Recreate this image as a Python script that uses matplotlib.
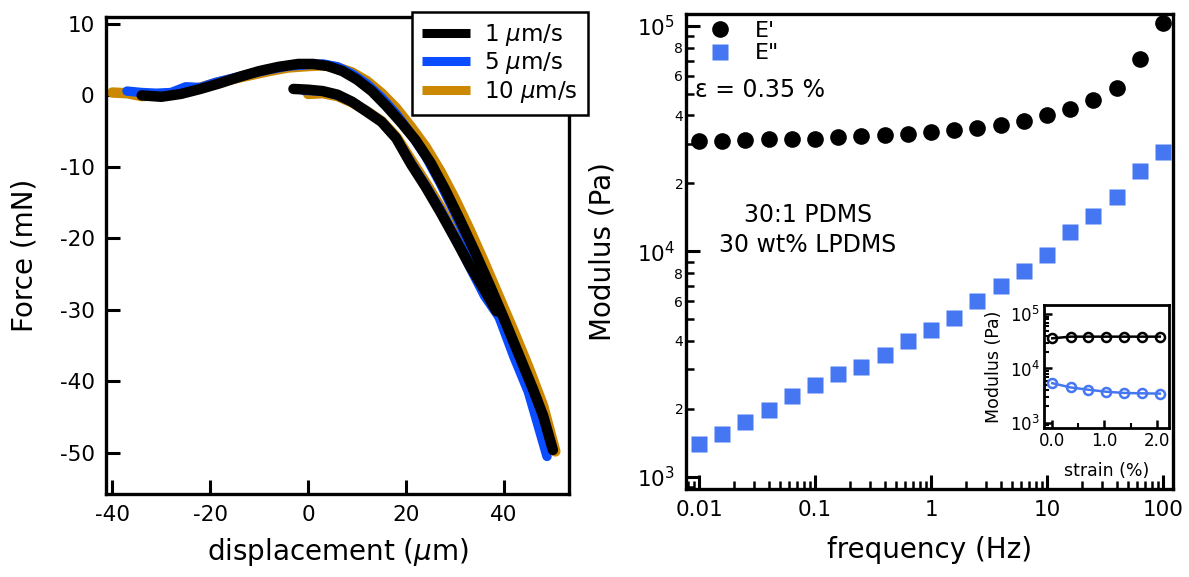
import numpy as np
import matplotlib
matplotlib.use("Agg")
import matplotlib.pyplot as plt
from matplotlib.ticker import LogLocator, FuncFormatter, NullFormatter, FixedLocator, LogFormatterSciNotation

plt.rcParams['font.family'] = ['DejaVu Sans']
plt.rcParams['axes.unicode_minus'] = False
plt.rcParams['mathtext.fontset'] = 'dejavusans'

# ---- left panel: force vs displacement (approach and second branch per speed) ----
speeds = ["1 $\\mu$m/s", "5 $\\mu$m/s", "10 $\\mu$m/s"]
colors = ["black", "#0a4cff", "#cc8800"]

x1_a = [-34, -30, -26, -22, -18, -14, -10, -6, -2, 1, 4, 7, 10, 13, 16, 19, 22, 25, 28, 31, 34, 37, 40, 43, 46, 48, 50]
y1_a = [0.0, -0.2, 0.2, 0.9, 1.7, 2.6, 3.4, 4.0, 4.4, 4.4, 4.1, 3.4, 2.2, 0.6, -1.5, -3.8, -6.3, -9.4, -13.2, -17.4, -21.8, -26.4, -31.2, -36.2, -41.2, -44.8, -49.6]
x1_b = [-3, 0, 3, 6, 9, 12, 15, 18, 21, 24, 27, 30, 33, 36, 38.5]
y1_b = [0.9, 0.8, 0.6, 0.1, -0.9, -2.3, -3.7, -6.0, -9.6, -12.8, -16.3, -20.0, -23.8, -27.2, -30.2]

x5_a = [-37, -34, -31, -28, -25, -22, -19, -16, -12, -8, -4, 0, 3, 6, 9, 12, 15, 18, 21, 24, 27, 30, 33, 36, 39, 42, 45, 48.8]
y5_a = [0.6, 0.4, 0.3, 0.4, 1.2, 1.1, 1.8, 2.3, 3.0, 3.6, 4.1, 4.3, 4.4, 4.0, 3.0, 1.6, -0.3, -2.6, -5.4, -8.5, -12.3, -16.5, -21.0, -25.8, -31.0, -36.5, -41.5, -50.5]
x5_b = [-1, 3, 6, 9, 12, 15, 18, 21, 24, 27, 30, 33, 36, 39]
y5_b = [0.7, 0.6, 0.0, -0.9, -2.2, -3.7, -6.0, -9.4, -12.6, -16.0, -19.8, -24.0, -28.0, -31.0]

x10_a = [-40, -37, -34, -31, -28, -25, -22, -19, -16, -12, -8, -4, 0, 3, 6, 9, 12, 15, 18, 21, 24, 27, 30, 33, 36, 39, 42, 45, 48, 50.5]
y10_a = [0.4, 0.3, -0.1, 0.0, 0.2, 0.6, 1.1, 1.7, 2.2, 2.8, 3.4, 3.9, 4.1, 4.2, 3.9, 3.2, 2.0, 0.3, -1.8, -4.4, -7.2, -10.6, -14.5, -18.8, -23.4, -28.2, -33.0, -38.0, -43.4, -49.8]
x10_b = [0, 3, 6, 9, 12, 15, 18, 21, 24, 27, 30, 33, 36, 39]
y10_b = [0.2, 0.3, -0.1, -1.0, -2.2, -3.6, -5.8, -9.0, -12.2, -15.6, -19.4, -23.4, -27.3, -30.4]

# ---- right panel: frequency sweep ----
freq = [0.01, 0.0158, 0.0251, 0.0398, 0.0631, 0.1, 0.158, 0.251, 0.398, 0.631, 1.0,
        1.58, 2.51, 3.98, 6.31, 10.0, 15.8, 25.1, 39.8, 63.1, 100.0]
E_store = [30900, 30900, 31150, 31360, 31470, 31470, 32000, 32330, 32780, 33120, 33910,
           34490, 35320, 36290, 37680, 40190, 42720, 46990, 52780, 71170, 102400]
E_loss = [1393, 1553, 1754, 1972, 2275, 2553, 2857, 3080, 3452, 3981, 4487,
          5058, 5998, 6985, 8150, 9630, 12140, 14290, 17340, 22750, 27470]

# ---- inset: strain sweep ----
strain = [0.0, 0.35, 0.69, 1.03, 1.37, 1.71, 2.06]
in_store = [36000, 38600, 38600, 38600, 38600, 38600, 38600]
in_loss = [5360, 4470, 4060, 3730, 3540, 3480, 3440]

fig = plt.figure(figsize=(11.89, 5.77), dpi=100)

lw_spine = 2.4
ax1 = fig.add_axes([0.0889, 0.1433, 0.3897, 0.8277])
series = [(x1_a, y1_a, x1_b, y1_b), (x5_a, y5_a, x5_b, y5_b), (x10_a, y10_a, x10_b, y10_b)]
widths = [7.5, 6.8, 7.5]
handles = []
for i in [2, 1, 0]:
    xa, ya, xb, yb = series[i]
    h, = ax1.plot(xa, ya, color=colors[i], lw=widths[i], solid_capstyle='round', zorder=3 - i * 0.5)
    ax1.plot(xb, yb, color=colors[i], lw=widths[i], solid_capstyle='round', zorder=3 - i * 0.5)
    handles.append((i, h))
handles = [h for i, h in sorted(handles)]

ax1.set_xlim(-41.35, 53.3)
ax1.set_ylim(-55.8, 11.0)
ax1.set_xticks([-40, -20, 0, 20, 40])
ax1.set_yticks([10, 0, -10, -20, -30, -40, -50])
ax1.set_xlabel("displacement ($\\mu$m)", fontsize=20)
ax1.set_ylabel("Force (mN)", fontsize=20)
ax1.xaxis.set_label_coords(0.5, -0.087)
ax1.yaxis.set_label_coords(-0.145, 0.5)
leg = fig.legend(handles, speeds, loc='upper right', bbox_to_anchor=(0.4948, 0.9797),
                 fontsize=16.5, handlelength=2.1, handletextpad=0.62, labelspacing=0.1,
                 borderpad=0.45, borderaxespad=0, fancybox=False, edgecolor='black',
                 framealpha=1)
leg.get_frame().set_linewidth(1.8)
for lh in leg.get_lines():
    lh.set_linewidth(6.5)
    lh.set_solid_capstyle('butt')

ax2 = fig.add_axes([0.577, 0.152, 0.4093, 0.8237])
ax2.plot(freq, E_store, 'o', color='black', ms=12, mec='none', label="E'")
ax2.plot(freq, E_loss, 's', color='#4677f2', ms=11, mec='none', label='E"')
ax2.set_xscale('log')
ax2.set_yscale('log')
ax2.set_xlim(10 ** -2.112, 10 ** 2.084)
ax2.set_ylim(10 ** 2.944, 10 ** 5.052)
ax2.xaxis.set_major_locator(FixedLocator([0.01, 0.1, 1, 10, 100]))
ax2.xaxis.set_major_formatter(FuncFormatter(lambda v, p: '%g' % v))
ax2.xaxis.set_minor_locator(LogLocator(base=10, subs=np.arange(2, 10), numticks=20))
ax2.xaxis.set_minor_formatter(NullFormatter())
ax2.yaxis.set_major_locator(LogLocator(base=10, numticks=10))
ax2.yaxis.set_major_formatter(LogFormatterSciNotation())
ax2.yaxis.set_minor_locator(LogLocator(base=10, subs=np.arange(2, 10), numticks=20))


def minor_lab(v, p):
    m = int(round(v / 10 ** np.floor(np.log10(v) + 1e-9)))
    return str(m) if m in (2, 4, 6, 8) else ''


ax2.yaxis.set_minor_formatter(FuncFormatter(minor_lab))
ax2.set_xlabel("frequency (Hz)", fontsize=20)
ax2.set_ylabel("Modulus (Pa)", fontsize=20)
ax2.xaxis.set_label_coords(0.5, -0.098)
ax2.yaxis.set_label_coords(-0.142, 0.5)
ax2.legend(loc='upper left', bbox_to_anchor=(708.5 / 1189, 1 - 20.8 / 577),
           bbox_transform=fig.transFigure, frameon=False, fontsize=16,
           handlelength=1.0, handletextpad=1.1, labelspacing=0.12, borderpad=0,
           borderaxespad=0)
fig.text(695 / 1189, 1 - 90 / 577, "ε = 0.35 %", fontsize=17, ha='left', va='center')
fig.text(808 / 1189, 1 - 230 / 577, "30:1 PDMS\n30 wt% LPDMS", fontsize=17,
         ha='center', va='center', multialignment='center', linespacing=1.3)

for ax in (ax1, ax2):
    for s in ax.spines.values():
        s.set_linewidth(lw_spine)
    ax.tick_params(which='major', direction='in', length=10, width=2.2, labelsize=15.5,
                   pad=8, top=False, right=False)
    ax.tick_params(which='minor', direction='in', length=6, width=1.8, top=False, right=False)
ax2.tick_params(axis='y', which='minor', labelsize=10, pad=2)

axin = fig.add_axes([0.8783, 0.2577, 0.1049, 0.2137])
axin.plot(strain, in_store, 'o-', color='black', mfc='none', ms=6.5, mew=1.8, lw=1.8)
axin.plot(strain, in_loss, 'o-', color='#4677f2', mfc='none', ms=6.5, mew=1.8, lw=1.8)
axin.set_yscale('log')
axin.set_xlim(-0.153, 2.236)
axin.set_ylim(10 ** 2.897, 10 ** 5.17)
axin.set_xticks([0, 1, 2])
axin.set_xticklabels(["0.0", "1.0", "2.0"])
axin.set_xticks([0.5, 1.5], minor=True)
axin.yaxis.set_major_locator(LogLocator(base=10, numticks=10))
axin.yaxis.set_major_formatter(LogFormatterSciNotation())
axin.yaxis.set_minor_locator(LogLocator(base=10, subs=np.arange(2, 10), numticks=20))
axin.yaxis.set_minor_formatter(NullFormatter())
for s in axin.spines.values():
    s.set_linewidth(2.0)
axin.tick_params(which='major', direction='in', length=6, width=1.8, labelsize=12, pad=3,
                 top=False, right=False)
axin.tick_params(which='minor', direction='in', length=3.5, width=1.5, top=False, right=False)
axin.set_xlabel("strain (%)", fontsize=12.5)
axin.set_ylabel("Modulus (Pa)", fontsize=12.5)
axin.xaxis.set_label_coords(0.5, -0.27)
axin.yaxis.set_label_coords(-0.33, 0.5)

fig.savefig("out.png", dpi=100)
